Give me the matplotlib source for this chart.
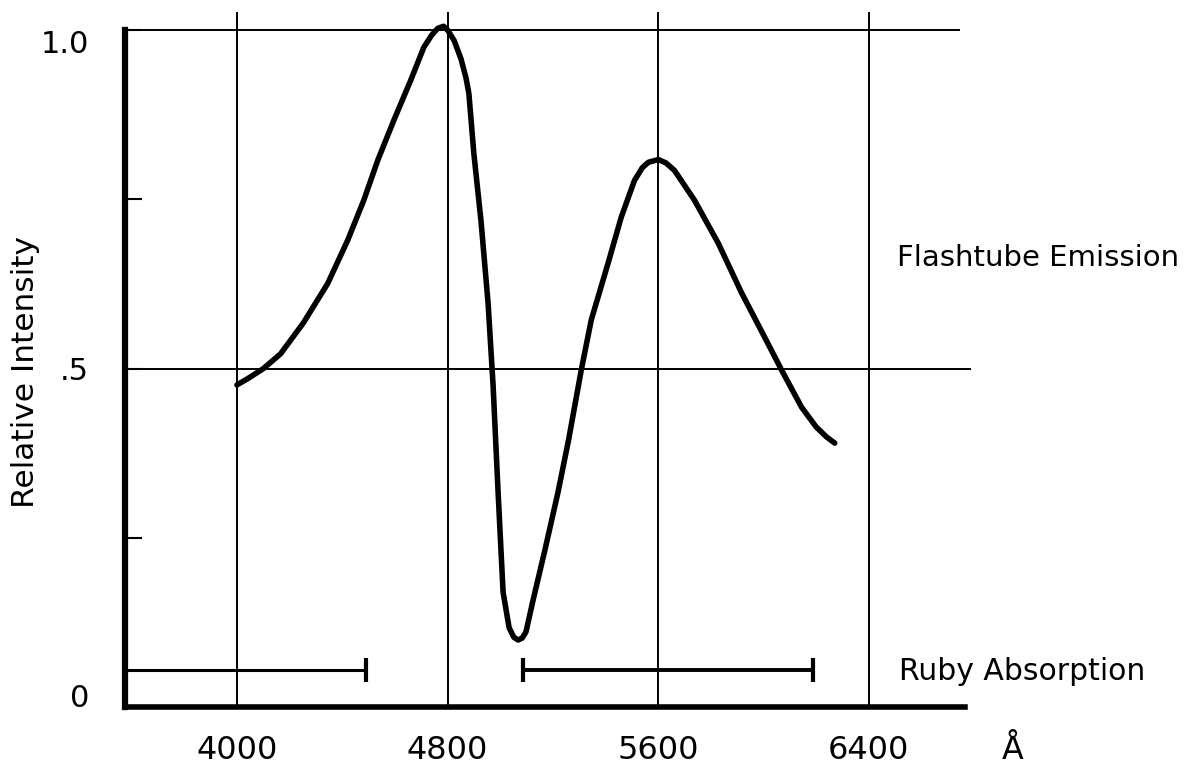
import matplotlib
matplotlib.use("Agg")
import matplotlib.pyplot as plt

# Flashtube emission curve (wavelength in Angstrom, relative intensity)
wavelength = [4000, 4040, 4100, 4166, 4253, 4345, 4421, 4482, 4535, 4596, 4660, 4710,
              4740, 4763, 4785, 4801, 4825, 4851, 4870, 4881, 4900, 4927, 4954,
              4973, 4992, 5011, 5034, 5052, 5068, 5084, 5098, 5125, 5170, 5220,
              5260, 5308, 5346, 5410, 5460, 5510, 5540, 5563, 5601, 5630, 5662,
              5738, 5829, 5917, 6004, 6069, 6145, 6200, 6240, 6271]
intensity = [0.476, 0.485, 0.500, 0.522, 0.568, 0.626, 0.690, 0.749, 0.808, 0.867, 0.926, 0.975,
             0.993, 1.003, 1.006, 1.000, 0.985, 0.958, 0.930, 0.907, 0.818, 0.719, 0.597,
             0.476, 0.318, 0.170, 0.117, 0.103, 0.099, 0.102, 0.111, 0.158, 0.232, 0.318,
             0.395, 0.498, 0.572, 0.656, 0.724, 0.778, 0.797, 0.805, 0.809, 0.804, 0.793,
             0.749, 0.685, 0.612, 0.547, 0.498, 0.443, 0.414, 0.399, 0.390]

# Ruby absorption bands (start, end) and level
ruby_left = (3575, 4489)
ruby_right = (5087, 6187)
ruby_level = 0.055

x_ticks = [4000, 4800, 5600, 6400]
x_tick_labels = ["4000", "4800", "5600", "6400"]
y_ticks = [0, 0.25, 0.5, 0.75, 1.0]
y_tick_labels = ["0", "", ".5", "", "1.0"]
h_lines = [(0.5, 6790), (1.0, 6747)]

plt.rcParams['font.family'] = ['DejaVu Sans']

fig = plt.figure(figsize=(11.91, 7.71), dpi=100)
ax = fig.add_axes([0.105, 0.083, 0.7053, 0.904])
ax.set_xlim(3575, 6766)
ax.set_ylim(0, 1.03)

# vertical grid lines
ax.vlines(x_ticks, 0, 1.027, colors='black', linewidth=1.4, zorder=1)
# horizontal reference lines
for yv, xe in h_lines:
    ax.hlines(yv, 3575, xe, colors='black', linewidth=1.4, clip_on=False, zorder=1)

# emission curve
ax.plot(wavelength, intensity, color='black', linewidth=4.0,
        solid_joinstyle='round', solid_capstyle='round', zorder=3)

# ruby absorption bars
cap = 0.018
ax.hlines(ruby_level, ruby_left[0], ruby_left[1], colors='black', linewidth=2.2)
ax.vlines(ruby_left[1], ruby_level - cap, ruby_level + cap, colors='black', linewidth=3)
ax.hlines(ruby_level, ruby_right[0], ruby_right[1], colors='black', linewidth=2.8)
ax.vlines([ruby_right[0], ruby_right[1]], ruby_level - cap, ruby_level + cap,
          colors='black', linewidth=3)

# spines
for s in ['top', 'right']:
    ax.spines[s].set_visible(False)
ax.spines['left'].set_linewidth(4.5)
ax.spines['bottom'].set_linewidth(4.0)
ax.spines['left'].set_bounds(0, 1.0)

ax.set_xticks(x_ticks)
ax.set_xticklabels(x_tick_labels, fontsize=23)
ax.tick_params(axis='x', length=0, pad=20)

ax.set_yticks(y_ticks)
ax.set_yticklabels(y_tick_labels, fontsize=22)
ax.tick_params(axis='y', direction='in', length=12, width=1.5, pad=26)
for lbl in ax.get_yticklabels():
    if lbl.get_text() == "1.0":
        lbl.set_va('top')
    if lbl.get_text() == "0":
        lbl.set_va('baseline')

ax.set_ylabel("Relative Intensity", fontsize=22.5, va='center')
ax.yaxis.set_label_coords(-0.119, 0.48)

ax.text(6507, 0.663, "Flashtube Emission", fontsize=21, ha='left', va='center', clip_on=False)
ax.text(6515, 0.052, "Ruby Absorption", fontsize=21.5, ha='left', va='center', clip_on=False)
ax.text(6945, -0.064, "Å", fontsize=23, ha='center', va='center', clip_on=False)

fig.savefig("out.png", dpi=100, facecolor='white')
